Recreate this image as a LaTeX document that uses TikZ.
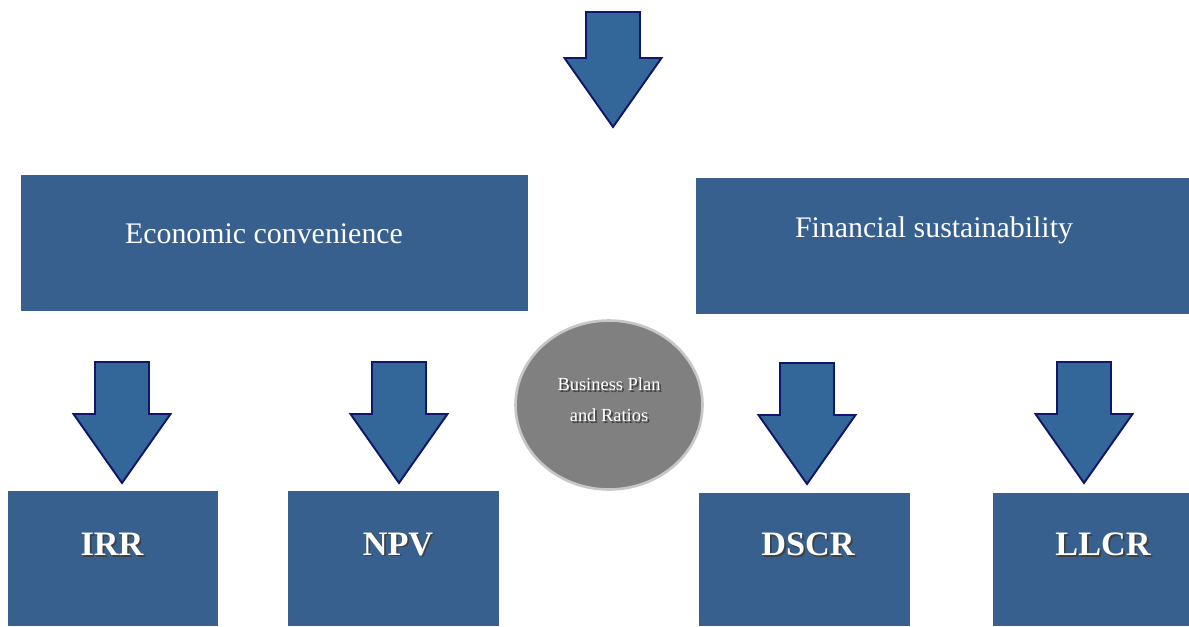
\documentclass[tikz,border=0pt]{standalone}
\usepackage{fontspec}
\setmainfont{Liberation Serif}
\usepackage{tikz}
\usetikzlibrary{shapes.geometric}

\definecolor{boxblue}{HTML}{37608F}
\definecolor{arrowblue}{HTML}{336699}
\definecolor{arrowline}{HTML}{10166A}

\newcommand{\shadowed}[1]{\makebox[0pt][l]{\hspace{1pt}\raisebox{-1pt}{\textcolor{black!75}{#1}}}#1}
\newcommand{\blockdown}[3]{%
  \draw [blockarrow] (#1-27,#2) -- (#1+27,#2) -- (#1+27,#2+#3) -- (#1+48.5,#2+#3)
    -- (#1,#2+#3+69) -- (#1-48.5,#2+#3) -- (#1-27,#2+#3) -- cycle;}

\tikzset{
  bluebox/.style={rectangle, fill=boxblue, inner sep=0pt},
  headtext/.style={text=white, font=\fontsize{17}{20}\selectfont},
  ratiotext/.style={text=white, font=\bfseries\fontsize{19.5}{23}\selectfont},
  blockarrow/.style={fill=arrowblue, draw=arrowline, line width=1.1pt, line join=miter}
}

\begin{document}
\begin{tikzpicture}[x=0.02cm, y=-0.02cm]
	\useasboundingbox (0,0) rectangle (1189,626);
	\blockdown{613}{12}{46}
	\node [bluebox, minimum width=10.14cm, minimum height=2.72cm] (econ) at (274.5,243) {};
	\node [headtext] (econtxt) at (264,234) {Economic convenience};
	\node [bluebox, minimum width=9.86cm, minimum height=2.72cm] (fin) at (942.5,246) {};
	\node [headtext] (fintxt) at (934,230) {Financial sustainability};
	\blockdown{122}{362}{52}
	\blockdown{399}{362}{52}
	\blockdown{807}{363}{52}
	\blockdown{1084}{362}{52}
	\node [ellipse, fill=black!50, draw=black!22, line width=1.5pt, minimum width=3.74cm, minimum height=3.38cm] (bp) at (609,405) {};
	\node [text=white, align=center, font=\fontsize{10.5}{17.5}\selectfont] (bptxt) at (609,400.5) {\shadowed{Business Plan}\\\shadowed{and Ratios}};
	\node [bluebox, minimum width=4.2cm, minimum height=2.7cm] (irr) at (113,558.5) {};
	\node [ratiotext] (irrtxt) at (112,545) {\shadowed{IRR}};
	\node [bluebox, minimum width=4.22cm, minimum height=2.7cm] (npv) at (393.5,558.5) {};
	\node [ratiotext] (npvtxt) at (398,545) {\shadowed{NPV}};
	\node [bluebox, minimum width=4.22cm, minimum height=2.66cm] (dscr) at (804.5,559.5) {};
	\node [ratiotext] (dscrtxt) at (808,545) {\shadowed{DSCR}};
	\node [bluebox, minimum width=3.92cm, minimum height=2.66cm] (llcr) at (1091,559.5) {};
	\node [ratiotext] (llcrtxt) at (1103,545) {\shadowed{LLCR}};
\end{tikzpicture}
\end{document}
